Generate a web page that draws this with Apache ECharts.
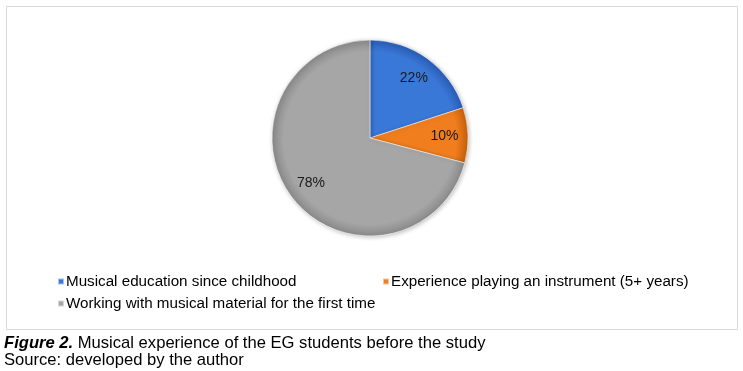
<!DOCTYPE html>
<html>
<head>
<meta charset="utf-8">
<script src="https://cdn.jsdelivr.net/npm/echarts@6/dist/echarts.min.js"></script>
<style>
html,body{margin:0;padding:0;background:#fff;}
#chart{width:743px;height:371px;}
</style>
</head>
<body>
<div id="chart"></div>
<script>
const categories = [
  "Musical education since childhood",
  "Experience playing an instrument (5+ years)",
  "Working with musical material for the first time"
];
const values = [22, 10, 78];
const labels = ["22%", "10%", "78%"];

const baseColors = ["#3a78d8", "#f07e1e", "#a6a6a6"];
const edgeColors = ["#2a5cb4", "#c4600c", "#8a8a8a"];
const CX = 370, CY = 138, R = 98;

function grad(i) {
  return {
    type: 'radial', x: CX, y: CY, r: R, global: true,
    colorStops: [
      {offset: 0, color: baseColors[i]},
      {offset: 0.88, color: baseColors[i]},
      {offset: 1, color: edgeColors[i]}
    ]
  };
}

const chart = echarts.init(document.getElementById('chart'));
const FONT = '"Liberation Sans", Arial, sans-serif';

function legendFor(i, left, top) {
  return {
    data: [{name: categories[i], itemStyle: {color: baseColors[i]}}],
    left: left, top: top, padding: 0,
    icon: 'rect', itemWidth: 6, itemHeight: 6,
    selectedMode: false,
    textStyle: {fontFamily: FONT, fontSize: 15.2, color: '#000', padding: [0, 0, 0, -3]}
  };
}

chart.setOption({
  animation: false,
  backgroundColor: '#fff',
  graphic: [{
    type: 'rect',
    shape: {x: 6.5, y: 6.5, width: 731, height: 323},
    style: {fill: 'none', stroke: '#d9d9d9', lineWidth: 1},
    silent: true
  }],
  title: [{
    text: '{b|Figure 2.} Musical experience of the EG students before the study',
    left: 4, top: 335, padding: 0,
    textStyle: {
      fontFamily: FONT, fontSize: 16.6, fontWeight: 'normal', color: '#000',
      rich: {b: {fontFamily: FONT, fontSize: 16.6, fontWeight: 'bold', fontStyle: 'italic', color: '#000'}}
    }
  }, {
    text: 'Source: developed by the author',
    left: 4, top: 352, padding: 0,
    textStyle: {fontFamily: FONT, fontSize: 16.6, fontWeight: 'normal', color: '#000'}
  }],
  legend: [
    legendFor(0, 57, 274),
    legendFor(1, 382, 274),
    legendFor(2, 57, 296)
  ],
  series: [{
    type: 'pie',
    center: [CX, CY],
    radius: [0, R],
    startAngle: 90,
    clockwise: true,
    silent: true,
    label: {show: false},
    labelLine: {show: false},
    itemStyle: {
      borderColor: 'rgba(255,255,255,0.55)', borderWidth: 1,
      shadowBlur: 4, shadowColor: 'rgba(0,0,0,0.25)', shadowOffsetX: 1, shadowOffsetY: 1
    },
    data: categories.map((c, i) => ({name: c, value: values[i], itemStyle: {color: grad(i)}}))
  }, {
    type: 'pie',
    center: [CX, CY],
    radius: [R * 0.46, R],
    startAngle: 90,
    clockwise: true,
    silent: true,
    legendHoverLink: false,
    itemStyle: {color: 'rgba(0,0,0,0)', borderWidth: 0},
    label: {
      show: true, position: 'inside',
      fontFamily: FONT, fontSize: 14, color: '#1a1a1a',
      formatter: p => labels[p.dataIndex]
    },
    labelLine: {show: false},
    data: categories.map((c, i) => ({name: c, value: values[i]}))
  }]
});
</script>
</body>
</html>
